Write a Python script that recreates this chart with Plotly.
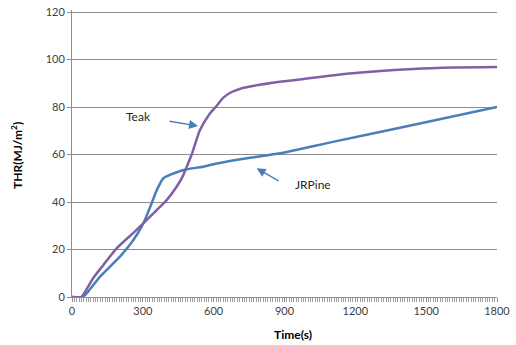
import plotly.graph_objects as go

# Teak THR curve (time in s, THR in MJ/m2)
teak_t = [0, 40, 60, 90, 133, 189, 260, 302, 359, 401, 443, 470, 486, 507, 542, 584,
          613, 640, 670, 710, 754, 881, 966, 1163, 1446, 1614, 1800]
teak_v = [0, 0, 3, 8, 13.5, 20.5, 27, 31, 36.6, 40.8, 46.4, 51, 54.9, 60, 70.3, 77.3,
          80.5, 83.8, 86, 87.6, 88.6, 90.6, 91.6, 94, 96, 96.6, 96.8]

# JRPine THR curve
pine_t = [0, 45, 70, 119, 203, 260, 302, 337, 359, 387, 429, 486, 542, 613, 754, 881,
          1100, 1389, 1800]
pine_v = [0, 0, 2.5, 8.6, 17, 24, 31, 39.4, 45, 50, 52, 53.8, 54.6, 56.2, 58.6, 60.5,
          65.2, 71.3, 80]

x_ticks = [0, 300, 600, 900, 1200, 1500, 1800]
y_ticks = [0, 20, 40, 60, 80, 100, 120]

FONT = "Lato"
GRID = "#8c8c8c"

W, H = 516, 345
L, R, T, B = 72, 19, 10, 48
PW, PH = W - L - R, H - T - B
Y_TOP = 120.84


def px_to_paper(px, py):
    return (px - L) / PW, (H - B - py) / PH


fig = go.Figure()
fig.add_trace(go.Scatter(x=pine_t, y=pine_v, mode="lines", name="JRPine",
                         line=dict(color="#4a7ebb", width=2.5, shape="spline", smoothing=0.6)))
fig.add_trace(go.Scatter(x=teak_t, y=teak_v, mode="lines", name="Teak",
                         line=dict(color="#7f5fa5", width=2.5, shape="spline", smoothing=0.6)))

arrow_col = "#4a7ebb"
fig.add_annotation(x=534, y=72, ax=407, ay=74.1, xref="x", yref="y", axref="x", ayref="y",
                   text="", showarrow=True, arrowhead=2, arrowsize=1.2, arrowwidth=1.5,
                   arrowcolor=arrow_col)
fig.add_annotation(x=782, y=54.2, ax=881, ay=48.5, xref="x", yref="y", axref="x", ayref="y",
                   text="", showarrow=True, arrowhead=2, arrowsize=1.2, arrowwidth=1.5,
                   arrowcolor=arrow_col)
fig.add_annotation(x=280, y=75.8, xref="x", yref="y", text="Teak", showarrow=False,
                   font=dict(family=FONT, size=12, color="#262626"))
fig.add_annotation(x=1021, y=47.2, xref="x", yref="y", text="JRPine", showarrow=False,
                   font=dict(family=FONT, size=12, color="#262626"))

# Axis titles
tx, ty = px_to_paper(293, 334)
fig.add_annotation(xref="paper", yref="paper", x=tx, y=ty, text="<b>Time(s)</b>",
                   showarrow=False, xanchor="center", yanchor="middle",
                   font=dict(family=FONT, size=12, color="#000"))
yx, yy = px_to_paper(17, 155)
fig.add_annotation(xref="paper", yref="paper", x=yx, y=yy,
                   text="<b>THR(MJ/m<sup>2</sup>)</b>", textangle=-90, showarrow=False,
                   xanchor="center", yanchor="middle",
                   font=dict(family=FONT, size=12, color="#000"))

fig.update_layout(
    width=W, height=H,
    margin=dict(l=L, r=R, t=T, b=B, autoexpand=False),
    paper_bgcolor="white", plot_bgcolor="white",
    showlegend=False,
    xaxis=dict(range=[0, 1800], tickvals=x_ticks, ticktext=[str(v) for v in x_ticks],
               automargin=False, ticklabeloverflow="allow",
               showgrid=False, zeroline=False, showline=True, linecolor=GRID, linewidth=1,
               ticks="outside", ticklen=4, tickcolor=GRID,
               minor=dict(dtick=10, tick0=0, ticks="outside", ticklen=4, tickcolor="#a0a0a0",
                          showgrid=False),
               tickfont=dict(family=FONT, size=11, color="#404040")),
    yaxis=dict(range=[0, Y_TOP], tickvals=y_ticks, showgrid=True, gridcolor=GRID, gridwidth=1,
               automargin=False, ticklabeloverflow="allow",
               zeroline=False, showline=True, linecolor=GRID, linewidth=1,
               ticks="outside", ticklen=4, tickcolor=GRID,
               tickfont=dict(family=FONT, size=11, color="#404040")),
)

fig.write_html("out.html", config={"displayModeBar": False},
               post_script="document.body.style.margin='0';document.body.style.padding='0';")
